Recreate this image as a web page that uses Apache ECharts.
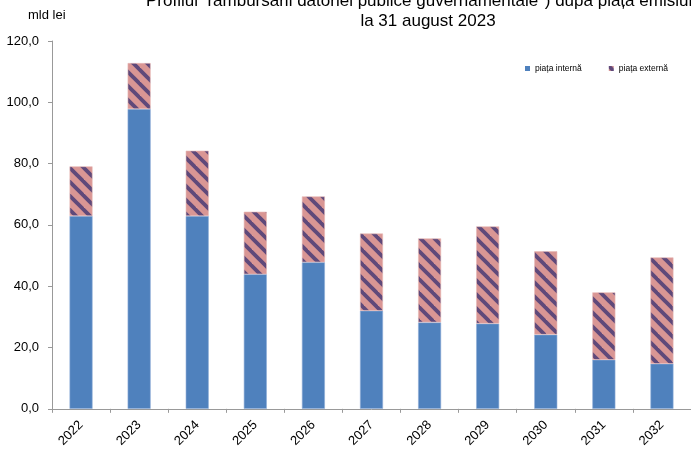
<!DOCTYPE html>
<html>
<head>
<meta charset="utf-8">
<script src="https://cdn.jsdelivr.net/npm/echarts@6/dist/echarts.min.js"></script>
<style>
html,body{margin:0;padding:0;background:#fff;}
#c{width:691px;height:450px;}
</style>
</head>
<body>
<div id="c"></div>
<script>
var categories = ['2022','2023','2024','2025','2026','2027','2028','2029','2030','2031','2032'];
var internValues = [62.9, 97.8, 62.9, 43.9, 47.8, 32.0, 28.2, 27.8, 24.2, 16.0, 14.7];
var externValues = [16.2, 15.0, 21.3, 20.4, 21.5, 25.2, 27.4, 31.7, 27.2, 22.0, 34.7];
var seriesNames = ['piața internă', 'piața externă'];
var titleLine1 = 'Profilul  rambursării datoriei publice guvernamentale*) după piața emisiunii';
var titleLine2 = 'la 31 august 2023';
var unitLabel = 'mld lei';

function makePattern() {
  var s = 14;
  var cv = document.createElement('canvas');
  cv.width = s; cv.height = s;
  var ctx = cv.getContext('2d');
  ctx.fillStyle = '#D99694';
  ctx.fillRect(0, 0, s, s);
  ctx.strokeStyle = '#5F497A';
  ctx.lineWidth = 3.8;
  [-s, 0, s].forEach(function (c) {
    ctx.beginPath();
    ctx.moveTo(-2, c - 2);
    ctx.lineTo(s + 2, c + s + 2);
    ctx.stroke();
  });
  return cv;
}

var chart = echarts.init(document.getElementById('c'), null, {renderer: 'canvas'});
var font = 'Liberation Sans, Arial, sans-serif';
chart.setOption({
  animation: false,
  textStyle: {fontFamily: font},
  grid: {left: 52, top: 41, bottom: 40, right: -3, containLabel: false},
  graphic: [
    {type: 'text', x: 146, y: -7, style: {text: titleLine1, font: '17px ' + font, fill: '#000', verticalAlign: 'top'}},
    {type: 'text', x: 428, y: 13, style: {text: titleLine2, font: '17px ' + font, fill: '#000', align: 'center', verticalAlign: 'top'}},
    {type: 'text', x: 28, y: 9, style: {text: unitLabel, font: '13px ' + font, fill: '#000', verticalAlign: 'top'}}
  ],
  legend: {
    left: 520, top: 59,
    itemWidth: 5, itemHeight: 5, itemGap: 27,
    icon: 'rect',
    itemStyle: {borderWidth: 0},
    textStyle: {fontSize: 8.5, color: '#000'},
    data: seriesNames
  },
  xAxis: {
    type: 'category',
    data: categories,
    axisLine: {lineStyle: {color: '#999', width: 1}},
    axisTick: {show: true, length: 4, lineStyle: {color: '#999'}},
    axisLabel: {rotate: 45, fontSize: 13, color: '#000', margin: 14, interval: 0}
  },
  yAxis: {
    type: 'value',
    min: 0, max: 120, interval: 20,
    splitLine: {show: false},
    axisLine: {show: true, lineStyle: {color: '#999', width: 1}},
    axisTick: {show: true, length: 4, lineStyle: {color: '#999'}},
    axisLabel: {fontSize: 13, color: '#000', margin: 13, formatter: function (v) { return v.toFixed(1).replace('.', ','); }}
  },
  series: [
    {
      name: seriesNames[0], type: 'bar', stack: 'a', data: internValues, barWidth: 23,
      itemStyle: {color: '#4F81BD', borderColor: '#8EADD6', borderWidth: 0.6}
    },
    {
      name: seriesNames[1], type: 'bar', stack: 'a', data: externValues, barWidth: 23,
      itemStyle: {color: {image: makePattern(), repeat: 'repeat'}, borderColor: '#E8B8B6', borderWidth: 0.6}
    }
  ]
});
</script>
</body>
</html>
